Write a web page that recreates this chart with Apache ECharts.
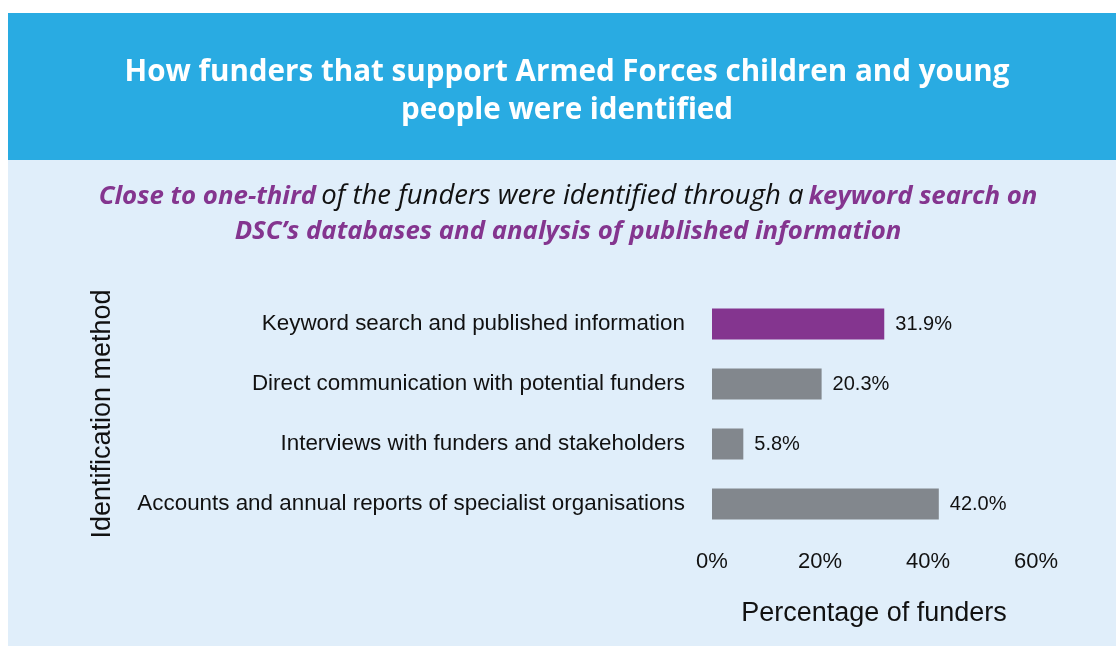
<!DOCTYPE html>
<html>
<head>
<meta charset="utf-8">
<script src="https://cdn.jsdelivr.net/npm/echarts@6/dist/echarts.min.js"></script>
<style>
  html, body { margin: 0; padding: 0; background: #ffffff; }
  #chart { width: 1116px; height: 646px; }
</style>
</head>
<body>
<div id="chart"></div>
<script>
// Identification methods, listed top to bottom
const methods = [
  'Keyword search and published information',
  'Direct communication with potential funders',
  'Interviews with funders and stakeholders',
  'Accounts and annual reports of specialist organisations'
];
// Share of funders found by each method (%)
const shares = [31.9, 20.3, 5.8, 42.0];
// Methods drawn in the highlight colour
const highlighted = ['Keyword search and published information'];
// Percentage axis ticks
const ticks = [0, 20, 40, 60];

const HEADER_BLUE = '#29abe2';
const PANEL_BLUE = '#e0eefa';
const PURPLE = '#84358f';
const GREY = '#82878d';
const AXIS_FONT = '"Liberation Sans", Arial, sans-serif';
const HEAD_FONT = '"Open Sans", Lato, sans-serif';

const chart = echarts.init(document.getElementById('chart'), null, { renderer: 'canvas' });

chart.setOption({
  backgroundColor: '#ffffff',
  animation: false,
  graphic: [
    { type: 'rect', z: -10, shape: { x: 8, y: 13, width: 1108, height: 147 }, style: { fill: HEADER_BLUE } },
    { type: 'rect', z: -10, shape: { x: 8, y: 160, width: 1108, height: 486 }, style: { fill: PANEL_BLUE } }
  ],
  title: [
    {
      text: 'How funders that support Armed Forces children and young\npeople were identified',
      left: 562,
      top: 49,
      textAlign: 'center',
      textStyle: {
        color: '#ffffff',
        fontFamily: HEAD_FONT,
        fontWeight: 'bold',
        fontSize: 29.6,
        lineHeight: 38
      }
    },
    {
      text: '{b|Close to one-third} {n|of the funders were identified through a} {b|keyword search on}\n{b|DSC\u2019s databases and analysis of published information}',
      left: 563,
      top: 174,
      textAlign: 'center',
      textStyle: {
        rich: {
          b: { color: PURPLE, fontFamily: HEAD_FONT, fontStyle: 'italic', fontWeight: 'bold', fontSize: 25.8, lineHeight: 35 },
          n: { color: '#111111', fontFamily: HEAD_FONT, fontStyle: 'italic', fontWeight: 'normal', fontSize: 27.5, lineHeight: 35 }
        }
      }
    }
  ],
  grid: { left: 712, right: 80, top: 294, height: 240, containLabel: false },
  xAxis: {
    type: 'value',
    min: ticks[0],
    max: ticks[ticks.length - 1],
    interval: ticks[1] - ticks[0],
    name: 'Percentage of funders',
    nameLocation: 'middle',
    nameGap: 66,
    nameTextStyle: { color: '#111111', fontFamily: AXIS_FONT, fontSize: 27 },
    axisLine: { show: false },
    axisTick: { show: false },
    splitLine: { show: false },
    axisLabel: {
      color: '#111111',
      fontFamily: AXIS_FONT,
      fontSize: 22,
      margin: 17,
      formatter: v => v + '%'
    }
  },
  yAxis: {
    type: 'category',
    data: methods,
    inverse: true,
    name: 'Identification method',
    nameLocation: 'middle',
    nameGap: 596,
    nameRotate: 90,
    nameTextStyle: { color: '#111111', fontFamily: AXIS_FONT, fontSize: 27 },
    axisLine: { show: false },
    axisTick: { show: false },
    splitLine: { show: false },
    axisLabel: {
      color: '#111111',
      fontFamily: AXIS_FONT,
      fontSize: 22.4,
      margin: 27,
      lineHeight: 30,
      padding: [4, 0, 0, 0]
    }
  },
  series: [
    {
      type: 'bar',
      barWidth: 31,
      data: shares.map((v, i) => ({
        value: v,
        itemStyle: { color: highlighted.includes(methods[i]) ? PURPLE : GREY }
      })),
      label: {
        show: true,
        position: 'right',
        distance: 11,
        color: '#111111',
        fontFamily: AXIS_FONT,
        fontSize: 20,
        formatter: p => p.value.toFixed(1) + '%'
      }
    }
  ]
});
</script>
</body>
</html>
